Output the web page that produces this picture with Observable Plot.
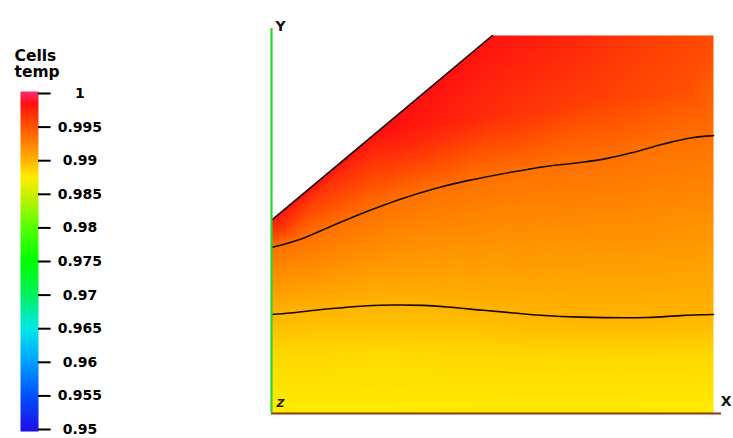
<!DOCTYPE html>
<html>
<head>
<meta charset="utf-8">
<script src="https://cdn.jsdelivr.net/npm/d3@7"></script>
<script src="https://cdn.jsdelivr.net/npm/@observablehq/plot@0.6"></script>
<style>
  html, body { margin: 0; padding: 0; background: #fff; }
  #chart { position: relative; width: 733px; height: 438px; overflow: hidden; }
  #chart svg { position: absolute; left: 0; top: 0; background: transparent; }
</style>
</head>
<body>
<div id="chart"></div>
<script>
// Colour map for the "temp" cell field
const colorStops  = [0.95, 0.955, 0.96, 0.965, 0.97, 0.975, 0.98, 0.985, 0.9875, 0.99, 0.995, 0.9985, 1];
const colorValues = ["#2010e8", "#0050ff", "#00a0ff", "#00e8e8", "#00f060", "#00ff00", "#55ff00",
                     "#ccf000", "#ffee00", "#ffb400", "#ff5500", "#ff1010", "#ff2a6a"];

// Scalar bar ticks
const tickValues = [1, 0.995, 0.99, 0.985, 0.98, 0.975, 0.97, 0.965, 0.96, 0.955, 0.95];
const tickLabels = ["1", "0.995", "0.99", "0.985", "0.98", "0.975", "0.97", "0.965", "0.96", "0.955", "0.95"];
const legendTitle = ["Cells", "temp"];

// Geometry of the domain (length units)
const domainX = [0, 1.17];
const domainY = [0, 1];
// Cut edge of the upper-left corner
const cutX = [0, 0.29, 0.585];
const cutY = [0.511, 0.753, 1];
const cutT = [0.9984, 0.9986, 0.9985];

// Iso-lines of temp
const contourLevels = [0.99, 0.9935];
const lowerX = [0, 0.050, 0.122, 0.191, 0.254, 0.328, 0.402, 0.474, 0.561, 0.641, 0.712, 0.818, 0.995, 1.083, 1.17];
const lowerY = [0.262, 0.266, 0.274, 0.280, 0.285, 0.287, 0.286, 0.281, 0.273, 0.266, 0.260, 0.255, 0.254, 0.259, 0.262];
const upperX = [0, 0.077, 0.164, 0.254, 0.341, 0.429, 0.519, 0.633, 0.731, 0.818, 0.889, 0.950, 1.038, 1.109, 1.17];
const upperY = [0.439, 0.461, 0.498, 0.535, 0.567, 0.594, 0.616, 0.638, 0.654, 0.664, 0.675, 0.689, 0.713, 0.729, 0.735];

// temp along the walls and at a few interior points
const bottomX = [0, 0.3, 0.6, 0.9, 1.17];
const bottomT = [0.9876, 0.9876, 0.9877, 0.9877, 0.9876];
const lowBandX = [0, 0.3, 0.6, 0.9, 1.17];
const lowBandY = [0.15, 0.16, 0.15, 0.14, 0.15];
const lowBandT = [0.9884, 0.9884, 0.9884, 0.9884, 0.9884];
const highBandX = [0.12, 0.34, 0.6, 0.87, 1.1];
const highBandY = [0.58, 0.70, 0.78, 0.83, 0.86];
const highBandT = [0.9966, 0.9972, 0.9968, 0.9960, 0.9953];
const topX = [0.585, 0.8, 1.0, 1.17];
const topT = [0.9984, 0.9974, 0.9962, 0.9955];

const axisNames = ["X", "Y", "Z"];

// Sample table for the field
const samples = [
  ...bottomX.map((x, i) => ({x, y: 0, t: bottomT[i]})),
  ...lowBandX.map((x, i) => ({x, y: lowBandY[i], t: lowBandT[i]})),
  ...lowerX.map((x, i) => ({x, y: lowerY[i], t: contourLevels[0]})),
  ...upperX.map((x, i) => ({x, y: upperY[i], t: contourLevels[1]})),
  ...highBandX.map((x, i) => ({x, y: highBandY[i], t: highBandT[i]})),
  ...cutX.map((x, i) => ({x, y: cutY[i], t: cutT[i]})),
  ...topX.map((x, i) => ({x, y: 1, t: topT[i]}))
];
const lowerLine = lowerX.map((x, i) => ({x, y: lowerY[i]}));
const upperLine = upperX.map((x, i) => ({x, y: upperY[i]}));
const cutLine = cutX.map((x, i) => ({x, y: cutY[i]}));

const colorScale = {type: "linear", domain: colorStops, range: colorValues, interpolate: "rgb", clamp: true};

const main = Plot.plot({
  width: 733,
  height: 438,
  marginLeft: 271,
  marginRight: 20,
  marginTop: 35,
  marginBottom: 25,
  style: {background: "transparent"},
  x: {domain: domainX, axis: null},
  y: {domain: domainY, axis: null},
  color: colorScale,
  marks: [
    Plot.raster(samples, {
      x: "x", y: "y", fill: "t",
      x1: domainX[0], x2: domainX[1], y1: domainY[0], y2: domainY[1],
      interpolate: "barycentric"
    }),
    Plot.areaY(cutLine, {x: "x", y1: "y", y2: () => domainY[1], fill: "white"}),
    Plot.line(lowerLine, {x: "x", y: "y", stroke: "#1a0800", strokeWidth: 1.6, curve: "catmull-rom"}),
    Plot.line(upperLine, {x: "x", y: "y", stroke: "#1a0800", strokeWidth: 1.6, curve: "catmull-rom"}),
    Plot.line(cutLine, {x: "x", y: "y", stroke: "#111", strokeWidth: 1.6}),
    Plot.ruleY([domainY[0]], {stroke: "#8b3a16", strokeWidth: 2, insetRight: -8}),
    Plot.ruleX([domainX[0]], {stroke: "#2ad82a", strokeWidth: 2.2, insetTop: -7}),
    Plot.text([axisNames[0]], {frameAnchor: "bottom-right", dx: 18, dy: -8, fontSize: 14, fill: "#111",
      fontFamily: "DejaVu Sans", fontWeight: "bold"}),
    Plot.text([axisNames[1]], {frameAnchor: "top-left", dx: 4, dy: -14, fontSize: 14, fill: "#111",
      fontFamily: "DejaVu Sans", fontWeight: "bold"}),
    Plot.text([axisNames[2]], {frameAnchor: "bottom-left", dx: 5, dy: -7, fontSize: 11, fill: "#222",
      fontFamily: "DejaVu Sans", fontWeight: "bold", fontStyle: "italic"})
  ]
});

const legend = Plot.plot({
  width: 130,
  height: 438,
  marginLeft: 20,
  marginRight: 92,
  marginTop: 93,
  marginBottom: 9,
  style: {background: "transparent"},
  x: {domain: [0, 1], axis: null},
  y: {domain: [0.95, 1], axis: null},
  color: colorScale,
  marks: [
    Plot.raster({fill: (x, y) => y, x1: 0, x2: 1, y1: 0.9497, y2: 1.0003, interpolate: null}),
    Plot.ruleY(tickValues, {x1: 1, x2: 1.7, stroke: "#000", strokeWidth: 2}),
    Plot.text(tickValues, {x: () => 3.3, y: d => d, text: (d, i) => tickLabels[i], fontSize: 14,
      fontFamily: "DejaVu Sans", fontWeight: "bold", fill: "#000", textAnchor: "middle"}),
    Plot.text([legendTitle.join("\n")], {frameAnchor: "top-left", dx: -6, dy: -44, lineAnchor: "top",
      textAnchor: "start", fontSize: 15.5, lineHeight: 1.05, fontFamily: "DejaVu Sans", fontWeight: "bold", fill: "#000"})
  ]
});

const chart = document.getElementById("chart");
chart.appendChild(main);
chart.appendChild(legend);
</script>
</body>
</html>
